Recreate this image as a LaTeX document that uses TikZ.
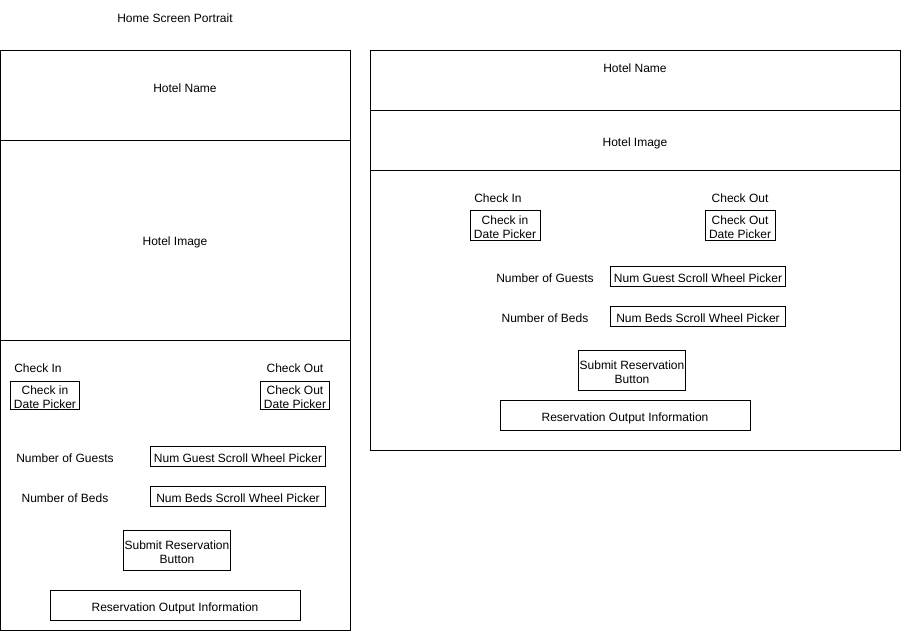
\documentclass[tikz,border=0pt]{standalone}
\usepackage{fontspec}
\setmainfont{Liberation Sans}
\begin{document}
\begin{tikzpicture}[x=1pt,y=-1pt,
  lbl/.style={font=\fontsize{12}{13.5}\selectfont, inner sep=0pt, align=center, yshift=-1pt},
  frame/.style={draw=black, line width=1pt},
  wbox/.style={draw=black, line width=1pt}]
\useasboundingbox (0,0) rectangle (901,631);
% title
\node[lbl] (title) at (175,17) {Home Screen Portrait};
% left panel
\draw[frame] (0.5,50.5) rectangle (350.5,630.5);
\draw[frame] (0.5,140.5) -- (350.5,140.5);
\draw[frame] (0.5,340.5) -- (350.5,340.5);
\node[lbl] (lname) at (185,87) {Hotel Name};
\node[lbl] (limg) at (175,241) {Hotel Image};
\node[lbl] (lcin) at (38,367) {Check In};
\draw[wbox] (10.5,381.5) rectangle (79.5,409.5);
\node[lbl] (lcinp) at (45,396) {Check in\\Date Picker};
\node[lbl] (lcout) at (295,367) {Check Out};
\draw[wbox] (260.5,381.5) rectangle (329.5,409.5);
\node[lbl] (lcoutp) at (295,396) {Check Out\\Date Picker};
\node[lbl] (lguests) at (65,457) {Number of Guests};
\draw[wbox] (150.5,446.5) rectangle (325.5,466.5);
\node[lbl] (lguestp) at (238,457) {Num Guest Scroll Wheel Picker};
\node[lbl] (lbeds) at (65,497) {Number of Beds};
\draw[wbox] (150.5,486.5) rectangle (325.5,506.5);
\node[lbl] (lbedp) at (238,497) {Num Beds Scroll Wheel Picker};
\draw[wbox] (123.5,530.5) rectangle (230.5,570.5);
\node[lbl] (lsub) at (177,551) {Submit Reservation\\Button};
\draw[wbox] (50.5,590.5) rectangle (300.5,620.5);
\node[lbl] (lout) at (175,607) {Reservation Output Information};
% right panel
\draw[frame] (370.5,50.5) rectangle (900.5,450.5);
\draw[frame] (370.5,110.5) -- (900.5,110.5);
\draw[frame] (370.5,170.5) -- (900.5,170.5);
\node[lbl] (rname) at (635,67) {Hotel Name};
\node[lbl] (rimg) at (635,142) {Hotel Image};
\node[lbl] (rcin) at (498,197) {Check In};
\draw[wbox] (470.5,210.5) rectangle (540.5,240.5);
\node[lbl] (rcinp) at (505,226) {Check in\\Date Picker};
\node[lbl] (rcout) at (740,197) {Check Out};
\draw[wbox] (705.5,210.5) rectangle (775.5,240.5);
\node[lbl] (rcoutp) at (740,226) {Check Out\\Date Picker};
\node[lbl] (rguests) at (545,277) {Number of Guests};
\draw[wbox] (610.5,266.5) rectangle (785.5,286.5);
\node[lbl] (rguestp) at (698,277) {Num Guest Scroll Wheel Picker};
\node[lbl] (rbeds) at (545,317) {Number of Beds};
\draw[wbox] (610.5,306.5) rectangle (785.5,326.5);
\node[lbl] (rbedp) at (698,317) {Num Beds Scroll Wheel Picker};
\draw[wbox] (578.5,350.5) rectangle (685.5,390.5);
\node[lbl] (rsub) at (632,371) {Submit Reservation\\Button};
\draw[wbox] (500.5,400.5) rectangle (750.5,430.5);
\node[lbl] (rout) at (625,417) {Reservation Output Information};
\end{tikzpicture}
\end{document}
